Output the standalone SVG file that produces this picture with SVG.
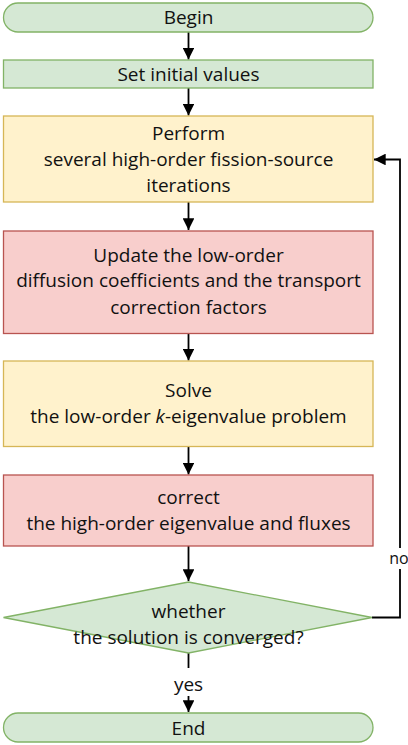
<svg xmlns="http://www.w3.org/2000/svg" width="408" height="745" viewBox="0 0 408 745">
<style>
text{font-family:"Open Sans","Liberation Sans",sans-serif;font-size:19px;fill:#111;text-anchor:middle}
.g{fill:#d5e8d4;stroke:#82b366;stroke-width:1.3}
.y{fill:#fff2cc;stroke:#d6b656;stroke-width:1.3}
.r{fill:#f8cecc;stroke:#b85450;stroke-width:1.3}
.c{fill:none;stroke:#000;stroke-width:1.8}
</style>
<defs>
<marker id="a" viewBox="0 0 10 10" refX="10" refY="5" markerWidth="6.5" markerHeight="6.5" orient="auto" markerUnits="strokeWidth"><path d="M0,0L10,5L0,10z" fill="#000"/></marker>
</defs>
<rect width="408" height="745" fill="#fff"/>
<g id="connectors">
<path class="c" d="M188.5,32V59.5" marker-end="url(#a)"/>
<path class="c" d="M188.5,88V115.5" marker-end="url(#a)"/>
<path class="c" d="M188.5,202V230" marker-end="url(#a)"/>
<path class="c" d="M188.5,334V360.5" marker-end="url(#a)"/>
<path class="c" d="M188.5,447V474.5" marker-end="url(#a)"/>
<path class="c" d="M188.5,546V581" marker-end="url(#a)"/>
<path class="c" d="M188.5,653V668"/>
<path class="c" d="M188.5,696V712" marker-end="url(#a)"/>
<path class="c" d="M372,617.5H400V569"/>
<path class="c" d="M400,548V159.5H374" marker-end="url(#a)"/>
<text x="399" y="564" style="font-size:16px">no</text>
<text x="188.5" y="691">yes</text>
</g>
<g id="begin"><rect class="g" x="3.5" y="3" width="369.5" height="29" rx="14.5"/><text x="188.5" y="23.5">Begin</text></g>
<g id="init"><rect class="g" x="3.5" y="60" width="369.5" height="28"/><text x="188.5" y="80.5">Set initial values</text></g>
<g id="perform"><rect class="y" x="3.5" y="116" width="369.5" height="86"/><text x="188.5" y="139.5">Perform</text><text x="188.5" y="165.5">several high-order fission-source</text><text x="188.5" y="191.5">iterations</text></g>
<g id="update"><rect class="r" x="3.5" y="231" width="369.5" height="102.5"/><text x="188.5" y="261.5">Update the low-order</text><text x="188.5" y="287">diffusion coefficients and the transport</text><text x="188.5" y="314">correction factors</text></g>
<g id="solve"><rect class="y" x="3.5" y="361" width="369.5" height="85.5"/><text x="188.5" y="396.5">Solve</text><text x="188.5" y="423">the low-order <tspan font-style="italic">k</tspan>-eigenvalue problem</text></g>
<g id="correct"><rect class="r" x="3.5" y="475" width="369.5" height="71"/><text x="188.5" y="503.5">correct</text><text x="188.5" y="530">the high-order eigenvalue and fluxes</text></g>
<g id="decision"><path class="g" d="M188.5,582L372,617.5L188.5,653L3.5,617.5Z"/><text x="188.5" y="617.5">whether</text><text x="188.5" y="643.5">the solution is converged?</text></g>
<g id="end"><rect class="g" x="3.5" y="713" width="369.5" height="29" rx="14.5"/><text x="188.5" y="734.5">End</text></g>
</svg>
